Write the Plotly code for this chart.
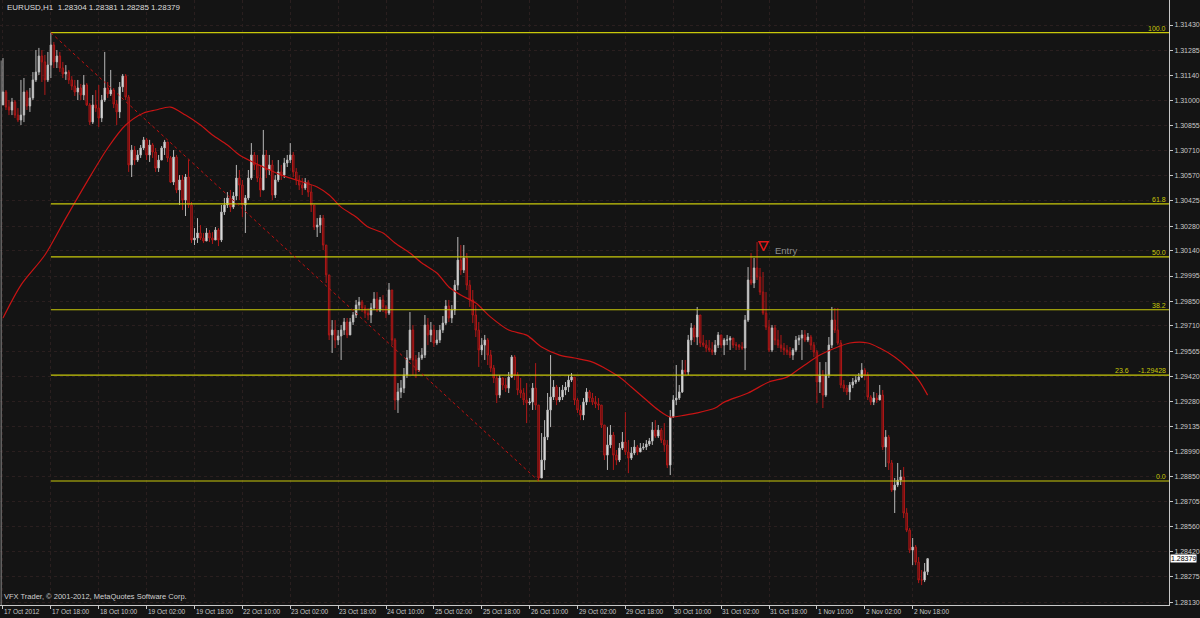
import plotly.graph_objects as go

# ---------------- data (EURUSD H1) ----------------
first_open = 1.30973
closes = [
    1.31047, 1.30961, 1.30944, 1.30990, 1.30915, 1.30887, 1.30915, 1.31047, 1.30967, 1.31013,
    1.31116, 1.31161, 1.31253, 1.31219, 1.31116, 1.31201, 1.31316, 1.31219, 1.31253, 1.31184,
    1.31150, 1.31161, 1.31116, 1.31081, 1.31047, 1.31070, 1.31030, 1.31087, 1.30973, 1.30875,
    1.30973, 1.30955, 1.30898, 1.31001, 1.31070, 1.31036, 1.31058, 1.30978, 1.30933, 1.31076,
    1.31138, 1.31018, 1.30630, 1.30715, 1.30658, 1.30687, 1.30727, 1.30773, 1.30687, 1.30744,
    1.30704, 1.30612, 1.30658, 1.30727, 1.30761, 1.30670, 1.30532, 1.30675, 1.30487, 1.30544,
    1.30429, 1.30561, 1.30401, 1.30201, 1.30212, 1.30241, 1.30212, 1.30195, 1.30241, 1.30212,
    1.30201, 1.30258, 1.30201, 1.30361, 1.30401, 1.30441, 1.30389, 1.30452, 1.30555, 1.30515,
    1.30401, 1.30441, 1.30555, 1.30687, 1.30630, 1.30555, 1.30487, 1.30687, 1.30601, 1.30630,
    1.30458, 1.30544, 1.30590, 1.30572, 1.30641, 1.30658, 1.30687, 1.30590, 1.30544, 1.30515,
    1.30498, 1.30532, 1.30475, 1.30401, 1.30275, 1.30286, 1.30326, 1.30172, 1.30001, 1.29658,
    1.29686, 1.29629, 1.29652, 1.29686, 1.29732, 1.29658, 1.29732, 1.29772, 1.29829, 1.29846,
    1.29812, 1.29783, 1.29772, 1.29812, 1.29863, 1.29800, 1.29858, 1.29818, 1.29783, 1.29915,
    1.29629, 1.29286, 1.29332, 1.29354, 1.29429, 1.29526, 1.29686, 1.29515, 1.29457, 1.29526,
    1.29543, 1.29715, 1.29658, 1.29686, 1.29612, 1.29629, 1.29686, 1.29726, 1.29823, 1.29755,
    1.29800, 1.29943, 1.30086, 1.30029, 1.30098, 1.29943, 1.29858, 1.29772, 1.29686, 1.29572,
    1.29600, 1.29629, 1.29543, 1.29469, 1.29412, 1.29314, 1.29412, 1.29372, 1.29354, 1.29417,
    1.29532, 1.29429, 1.29343, 1.29326, 1.29286, 1.29269, 1.29274, 1.29354, 1.29257, 1.28840,
    1.28943, 1.29074, 1.29229, 1.29303, 1.29360, 1.29286, 1.29303, 1.29343, 1.29360, 1.29400,
    1.29417, 1.29286, 1.29229, 1.29200, 1.29274, 1.29332, 1.29297, 1.29274, 1.29263, 1.29257,
    1.29143, 1.28971, 1.29029, 1.29086, 1.28971, 1.28943, 1.29011, 1.29046, 1.28989, 1.28954,
    1.28983, 1.29017, 1.28989, 1.29011, 1.29017, 1.29034, 1.29051, 1.29114, 1.29080, 1.29114,
    1.29057, 1.29029, 1.28914, 1.29189, 1.29286, 1.29297, 1.29332, 1.29457, 1.29446, 1.29629,
    1.29698, 1.29646, 1.29772, 1.29612, 1.29600, 1.29583, 1.29572, 1.29560, 1.29600, 1.29658,
    1.29600, 1.29629, 1.29629, 1.29640, 1.29600, 1.29600, 1.29589, 1.29583, 1.29743, 1.29972,
    1.29955, 1.30041, 1.29989, 1.29903, 1.29783, 1.29703, 1.29572, 1.29698, 1.29629, 1.29600,
    1.29583, 1.29572, 1.29560, 1.29543, 1.29572, 1.29629, 1.29640, 1.29658, 1.29629, 1.29646,
    1.29600, 1.29560, 1.29389, 1.29429, 1.29314, 1.29429, 1.29600, 1.29743, 1.29686, 1.29612,
    1.29372, 1.29354, 1.29332, 1.29372, 1.29389, 1.29400, 1.29417, 1.29457, 1.29429, 1.29303,
    1.29274, 1.29297, 1.29286, 1.29314, 1.29017, 1.29074, 1.28926, 1.28771, 1.28800, 1.28828,
    1.28846, 1.28640, 1.28542, 1.28428, 1.28445, 1.28359, 1.28257, 1.28257, 1.28304, 1.28379,
]
highs = [
    1.31241, 1.31058, 1.31001, 1.31013, 1.31001, 1.30955, 1.31116, 1.31127, 1.31058, 1.31070,
    1.31161, 1.31287, 1.31299, 1.31287, 1.31259, 1.31276, 1.31386, 1.31333, 1.31287, 1.31276,
    1.31219, 1.31201, 1.31173, 1.31138, 1.31116, 1.31116, 1.31093, 1.31144, 1.31098, 1.30984,
    1.31030, 1.31058, 1.31087, 1.31030, 1.31276, 1.31104, 1.31173, 1.31070, 1.31001, 1.31104,
    1.31150, 1.31150, 1.31030, 1.30744, 1.30738, 1.30715, 1.30744, 1.30790, 1.30784, 1.30773,
    1.30755, 1.30727, 1.30687, 1.30738, 1.30773, 1.30744, 1.30681, 1.30715, 1.30687, 1.30572,
    1.30572, 1.30578, 1.30658, 1.30418, 1.30269, 1.30326, 1.30286, 1.30241, 1.30269, 1.30258,
    1.30246, 1.30275, 1.30269, 1.30401, 1.30441, 1.30475, 1.30487, 1.30475, 1.30630, 1.30601,
    1.30544, 1.30458, 1.30601, 1.30755, 1.30704, 1.30687, 1.30630, 1.30830, 1.30715, 1.30687,
    1.30658, 1.30572, 1.30658, 1.30630, 1.30670, 1.30687, 1.30755, 1.30704, 1.30612, 1.30572,
    1.30555, 1.30555, 1.30544, 1.30515, 1.30401, 1.30326, 1.30344, 1.30344, 1.30172, 1.29983,
    1.29743, 1.29743, 1.29686, 1.29715, 1.29755, 1.29755, 1.29755, 1.29789, 1.29858, 1.29875,
    1.29858, 1.29829, 1.29812, 1.29840, 1.29903, 1.29903, 1.29875, 1.29886, 1.29829, 1.29955,
    1.29915, 1.29640, 1.29383, 1.29400, 1.29469, 1.29572, 1.29789, 1.29715, 1.29543, 1.29560,
    1.29583, 1.29772, 1.29755, 1.29732, 1.29715, 1.29686, 1.29715, 1.29766, 1.29858, 1.29858,
    1.29829, 1.29972, 1.30218, 1.30172, 1.30172, 1.30126, 1.29972, 1.29915, 1.29829, 1.29732,
    1.29640, 1.29658, 1.29640, 1.29572, 1.29486, 1.29429, 1.29429, 1.29417, 1.29412, 1.29446,
    1.29543, 1.29543, 1.29446, 1.29412, 1.29354, 1.29383, 1.29297, 1.29383, 1.29497, 1.29212,
    1.29097, 1.29171, 1.29326, 1.29543, 1.29400, 1.29372, 1.29360, 1.29372, 1.29389, 1.29429,
    1.29440, 1.29417, 1.29297, 1.29257, 1.29297, 1.29354, 1.29343, 1.29326, 1.29309, 1.29297,
    1.29257, 1.29143, 1.29131, 1.29143, 1.29103, 1.29000, 1.29040, 1.29103, 1.29217, 1.29057,
    1.29017, 1.29057, 1.29029, 1.29040, 1.29040, 1.29057, 1.29069, 1.29160, 1.29171, 1.29143,
    1.29126, 1.29154, 1.29057, 1.29229, 1.29314, 1.29486, 1.29372, 1.29515, 1.29515, 1.29658,
    1.29726, 1.29715, 1.29818, 1.29772, 1.29658, 1.29629, 1.29629, 1.29617, 1.29629, 1.29675,
    1.29658, 1.29640, 1.29658, 1.29652, 1.29640, 1.29617, 1.29606, 1.29617, 1.29772, 1.30046,
    1.30126, 1.30098, 1.30189, 1.30041, 1.30018, 1.29903, 1.29743, 1.29715, 1.29715, 1.29686,
    1.29658, 1.29612, 1.29600, 1.29589, 1.29583, 1.29652, 1.29658, 1.29686, 1.29686, 1.29669,
    1.29658, 1.29617, 1.29572, 1.29503, 1.29457, 1.29503, 1.29646, 1.29818, 1.29812, 1.29812,
    1.29629, 1.29400, 1.29372, 1.29389, 1.29412, 1.29423, 1.29440, 1.29497, 1.29469, 1.29446,
    1.29314, 1.29332, 1.29326, 1.29372, 1.29343, 1.29114, 1.29086, 1.28943, 1.28840, 1.28926,
    1.28886, 1.28903, 1.28668, 1.28554, 1.28497, 1.28457, 1.28388, 1.28314, 1.28354, 1.28381,
]
lows = [
    1.30973, 1.30944, 1.30915, 1.30915, 1.30898, 1.30875, 1.30858, 1.30875, 1.30944, 1.30933,
    1.31001, 1.31104, 1.31144, 1.31104, 1.31030, 1.31104, 1.31127, 1.31184, 1.31184, 1.31161,
    1.31127, 1.31116, 1.31093, 1.31058, 1.31024, 1.31001, 1.31001, 1.31001, 1.30967, 1.30858,
    1.30864, 1.30933, 1.30847, 1.30875, 1.30990, 1.31013, 1.31024, 1.30955, 1.30858, 1.30898,
    1.31047, 1.31001, 1.30590, 1.30561, 1.30630, 1.30647, 1.30670, 1.30715, 1.30658, 1.30647,
    1.30670, 1.30590, 1.30590, 1.30658, 1.30687, 1.30647, 1.30527, 1.30515, 1.30469, 1.30401,
    1.30372, 1.30338, 1.30384, 1.30184, 1.30172, 1.30184, 1.30201, 1.30184, 1.30201, 1.30189,
    1.30178, 1.30201, 1.30166, 1.30189, 1.30344, 1.30384, 1.30361, 1.30378, 1.30429, 1.30429,
    1.30332, 1.30241, 1.30429, 1.30544, 1.30601, 1.30532, 1.30447, 1.30515, 1.30555, 1.30572,
    1.30429, 1.30441, 1.30532, 1.30544, 1.30555, 1.30618, 1.30641, 1.30561, 1.30515, 1.30487,
    1.30458, 1.30487, 1.30447, 1.30361, 1.30258, 1.30218, 1.30241, 1.30143, 1.29955, 1.29629,
    1.29555, 1.29583, 1.29600, 1.29515, 1.29658, 1.29640, 1.29658, 1.29715, 1.29755, 1.29800,
    1.29789, 1.29755, 1.29743, 1.29726, 1.29800, 1.29789, 1.29789, 1.29789, 1.29755, 1.29772,
    1.29600, 1.29229, 1.29212, 1.29297, 1.29326, 1.29412, 1.29515, 1.29429, 1.29412, 1.29446,
    1.29515, 1.29526, 1.29600, 1.29617, 1.29589, 1.29600, 1.29612, 1.29669, 1.29715, 1.29732,
    1.29726, 1.29772, 1.29915, 1.30001, 1.30012, 1.29915, 1.29818, 1.29726, 1.29646, 1.29475,
    1.29543, 1.29515, 1.29486, 1.29446, 1.29383, 1.29269, 1.29297, 1.29343, 1.29332, 1.29326,
    1.29412, 1.29400, 1.29314, 1.29297, 1.29257, 1.29154, 1.29257, 1.29229, 1.29229, 1.28823,
    1.28886, 1.28886, 1.29057, 1.29131, 1.29286, 1.29257, 1.29274, 1.29286, 1.29314, 1.29332,
    1.29389, 1.29257, 1.29212, 1.29171, 1.29171, 1.29257, 1.29274, 1.29257, 1.29240, 1.29229,
    1.29126, 1.28943, 1.28886, 1.29011, 1.28886, 1.28914, 1.28931, 1.29000, 1.28971, 1.28868,
    1.28943, 1.28971, 1.28971, 1.28989, 1.29000, 1.29000, 1.29023, 1.29029, 1.29069, 1.29069,
    1.29040, 1.28989, 1.28897, 1.28857, 1.29183, 1.29257, 1.29286, 1.29326, 1.29429, 1.29429,
    1.29600, 1.29617, 1.29600, 1.29589, 1.29589, 1.29560, 1.29560, 1.29543, 1.29543, 1.29583,
    1.29583, 1.29543, 1.29600, 1.29572, 1.29583, 1.29572, 1.29572, 1.29572, 1.29457, 1.29732,
    1.29943, 1.29926, 1.29972, 1.29886, 1.29772, 1.29686, 1.29560, 1.29560, 1.29600, 1.29583,
    1.29560, 1.29543, 1.29543, 1.29526, 1.29515, 1.29560, 1.29600, 1.29515, 1.29617, 1.29617,
    1.29572, 1.29532, 1.29269, 1.29326, 1.29240, 1.29303, 1.29412, 1.29583, 1.29669, 1.29600,
    1.29354, 1.29332, 1.29314, 1.29286, 1.29354, 1.29377, 1.29389, 1.29412, 1.29400, 1.29286,
    1.29257, 1.29257, 1.29269, 1.29286, 1.29000, 1.28903, 1.28886, 1.28760, 1.28640, 1.28788,
    1.28800, 1.28611, 1.28531, 1.28411, 1.28342, 1.28342, 1.28239, 1.28228, 1.28245, 1.28285,
]

# moving average (read at selected bars)
ma_bars = [0, 6, 14, 21, 28, 35, 41, 47, 51, 56, 61, 66, 70, 75, 79, 87, 93, 98, 105, 109,
           113, 118, 122, 127, 131, 136, 140, 145, 149, 153, 158, 163, 169, 175, 180, 186, 191,
           197, 201, 206, 210, 215, 219, 223, 228, 232, 238, 241, 249, 256, 262, 267, 273, 279,
           283, 289, 293, 298, 302, 306, 309]
ma_values = [1.29755, 1.29943, 1.30115, 1.30326, 1.30532, 1.30727, 1.30858, 1.30927, 1.30944,
             1.30961, 1.30915, 1.30858, 1.30801, 1.30744, 1.30687, 1.30618, 1.30572, 1.30544,
             1.30504, 1.30458, 1.30389, 1.30332, 1.30275, 1.30241, 1.30184, 1.30126, 1.30069,
             1.30012, 1.29932, 1.29886, 1.29840, 1.29760, 1.29686, 1.29657, 1.29589, 1.29543,
             1.29526, 1.29503, 1.29469, 1.29417, 1.29360, 1.29286, 1.29229, 1.29189, 1.29200,
             1.29212, 1.29240, 1.29274, 1.29326, 1.29389, 1.29417, 1.29475, 1.29543, 1.29589,
             1.29612, 1.29612, 1.29583, 1.29532, 1.29475, 1.29400, 1.29314]

price_ticks = [1.31430, 1.31285, 1.31140, 1.31000, 1.30855, 1.30710, 1.30570, 1.30425,
               1.30280, 1.30140, 1.29995, 1.29850, 1.29710, 1.29565, 1.29420, 1.29280,
               1.29135, 1.28990, 1.28850, 1.28705, 1.28560, 1.28420, 1.28275, 1.28130]
time_tick_bars = [0, 16, 32, 48, 64, 80, 96, 112, 128, 144, 160, 176, 192, 208, 224, 240,
                  256, 272, 288, 304]
time_tick_labels = ["17 Oct 2012", "17 Oct 18:00", "18 Oct 10:00", "19 Oct 02:00",
                    "19 Oct 18:00", "22 Oct 10:00", "23 Oct 02:00", "23 Oct 18:00",
                    "24 Oct 10:00", "25 Oct 02:00", "25 Oct 18:00", "26 Oct 10:00",
                    "29 Oct 02:00", "29 Oct 18:00", "30 Oct 10:00", "31 Oct 02:00",
                    "31 Oct 18:00", "1 Nov 10:00", "2 Nov 02:00", "2 Nov 18:00"]
fib_ratios = [0.0, 23.6, 38.2, 50.0, 61.8, 100.0]
fib_high_bar = 16
fib_low_bar = 179
entry_bar = 254.2
entry_price = 1.30140
header_text = "EURUSD,H1  1.28304 1.28381 1.28285 1.28379"
copyright_text = "VFX Trader, \u00a9 2001-2012, MetaQuotes Software Corp."

# ---------------- derived ----------------
n = len(closes)
bars = list(range(n))
opens = [first_open] + closes[:-1]
hi = [max(h, o, c) for h, o, c in zip(highs, opens, closes)]
lo = [min(l, o, c) for l, o, c in zip(lows, opens, closes)]

X_MIN, X_MAX = -1.0, 389.67
Y_MIN, Y_MAX = 1.28114, 1.31573
BG = "#141414"
GRID = "#2a1f1f"
AXC = "#c8c8c8"
FIB = "#c8c80a"
FONT = "Liberation Sans, Arial, sans-serif"

fig = go.Figure()

fig.add_trace(go.Candlestick(
    x=bars, open=opens, high=hi, low=lo, close=closes,
    increasing=dict(line=dict(color="#b8b8b8", width=1), fillcolor="#f4f4f4"),
    decreasing=dict(line=dict(color="#b01818", width=1), fillcolor="#4a0a0a"),
    whiskerwidth=0, hoverinfo="skip", showlegend=False,
))

fig.add_trace(go.Scatter(
    x=ma_bars, y=ma_values, mode="lines",
    line=dict(color="#c81414", width=1.2, shape="spline", smoothing=0.8),
    hoverinfo="skip", showlegend=False,
))

# entry arrow marker
fig.add_trace(go.Scatter(
    x=[entry_bar], y=[entry_price], mode="markers",
    marker=dict(symbol="arrow-down-open", size=9, color="#e01818",
                line=dict(color="#e01818", width=1.5)),
    hoverinfo="skip", showlegend=False,
))

shapes = []
annotations = []

p_hi = hi[fib_high_bar]
p_lo = lo[fib_low_bar]
for r in fib_ratios:
    lvl = p_lo + (p_hi - p_lo) * r / 100.0
    shapes.append(dict(type="line", xref="x", yref="y", x0=fib_high_bar, x1=X_MAX,
                       y0=lvl, y1=lvl, line=dict(color=FIB, width=1.2)))
    txt = f"{r:.1f}"
    if r == 23.6:
        txt = f"23.6     -{lvl:.5f}"
    annotations.append(dict(x=1, xref="paper", y=lvl, yref="y", text=txt, showarrow=False,
                            xanchor="right", yanchor="bottom", xshift=-1, yshift=-1,
                            font=dict(family=FONT, size=7, color=FIB)))

# fib trend line
shapes.append(dict(type="line", xref="x", yref="y", x0=fib_high_bar, y0=p_hi,
                   x1=fib_low_bar, y1=p_lo, line=dict(color="#c01010", width=1, dash="dot")))

# left border
shapes.append(dict(type="line", xref="paper", yref="paper", x0=0.001, x1=0.001, y0=0, y1=0.9,
                   line=dict(color="#8a8a8a", width=1)))

# time labels (left aligned at tick)
for b, t in zip(time_tick_bars, time_tick_labels):
    annotations.append(dict(x=b, xref="x", y=0, yref="paper", text=t, showarrow=False,
                            xanchor="left", yanchor="top", xshift=-1, yshift=-1,
                            font=dict(family=FONT, size=6.5, color=AXC)))

# current price box
annotations.append(dict(x=1, xref="paper", y=closes[-1], yref="y",
                        text=f"{closes[-1]:.5f}", showarrow=False, xanchor="left",
                        yanchor="middle", bgcolor="#ffffff", borderpad=0, xshift=1,
                        font=dict(family=FONT, size=7, color="#000000")))

# header & copyright
annotations.append(dict(x=0, xref="paper", y=1, yref="paper", text=header_text,
                        showarrow=False, xanchor="left", yanchor="top", xshift=5, yshift=-1,
                        font=dict(family=FONT, size=8, color="#dcdcdc")))
annotations.append(dict(x=0, xref="paper", y=0, yref="paper", text=copyright_text,
                        showarrow=False, xanchor="left", yanchor="bottom", xshift=2, yshift=2,
                        font=dict(family=FONT, size=7.5, color="#d0d0d0")))

# entry label
annotations.append(dict(x=entry_bar + 3, xref="x", y=entry_price, yref="y", text="Entry",
                        showarrow=False, xanchor="left", yanchor="middle",
                        font=dict(family=FONT, size=9.5, color="#8c8c8c")))

fig.update_layout(
    width=1200, height=618,
    margin=dict(l=0, r=28, t=0, b=13),
    paper_bgcolor=BG, plot_bgcolor=BG,
    shapes=shapes, annotations=annotations,
    showlegend=False,
    xaxis=dict(range=[X_MIN, X_MAX], rangeslider=dict(visible=False),
               tickmode="array", tickvals=time_tick_bars, showticklabels=False,
               ticks="outside", ticklen=3, tickcolor=AXC,
               showgrid=True, gridcolor=GRID, griddash="dot", gridwidth=1,
               showline=True, linecolor=AXC, linewidth=1, zeroline=False, fixedrange=True),
    yaxis=dict(range=[Y_MIN, Y_MAX], side="right", tickmode="array",
               tickvals=price_ticks, ticktext=[f"{p:.5f}" for p in price_ticks],
               ticks="outside", ticklen=3, tickcolor=AXC,
               tickfont=dict(family=FONT, size=7, color=AXC),
               showgrid=True, gridcolor=GRID, griddash="dot", gridwidth=1,
               showline=True, linecolor=AXC, linewidth=1, zeroline=False, fixedrange=True),
)

fig.write_html("out.html", config={"displayModeBar": False},
               post_script="document.body.style.margin='0';")
